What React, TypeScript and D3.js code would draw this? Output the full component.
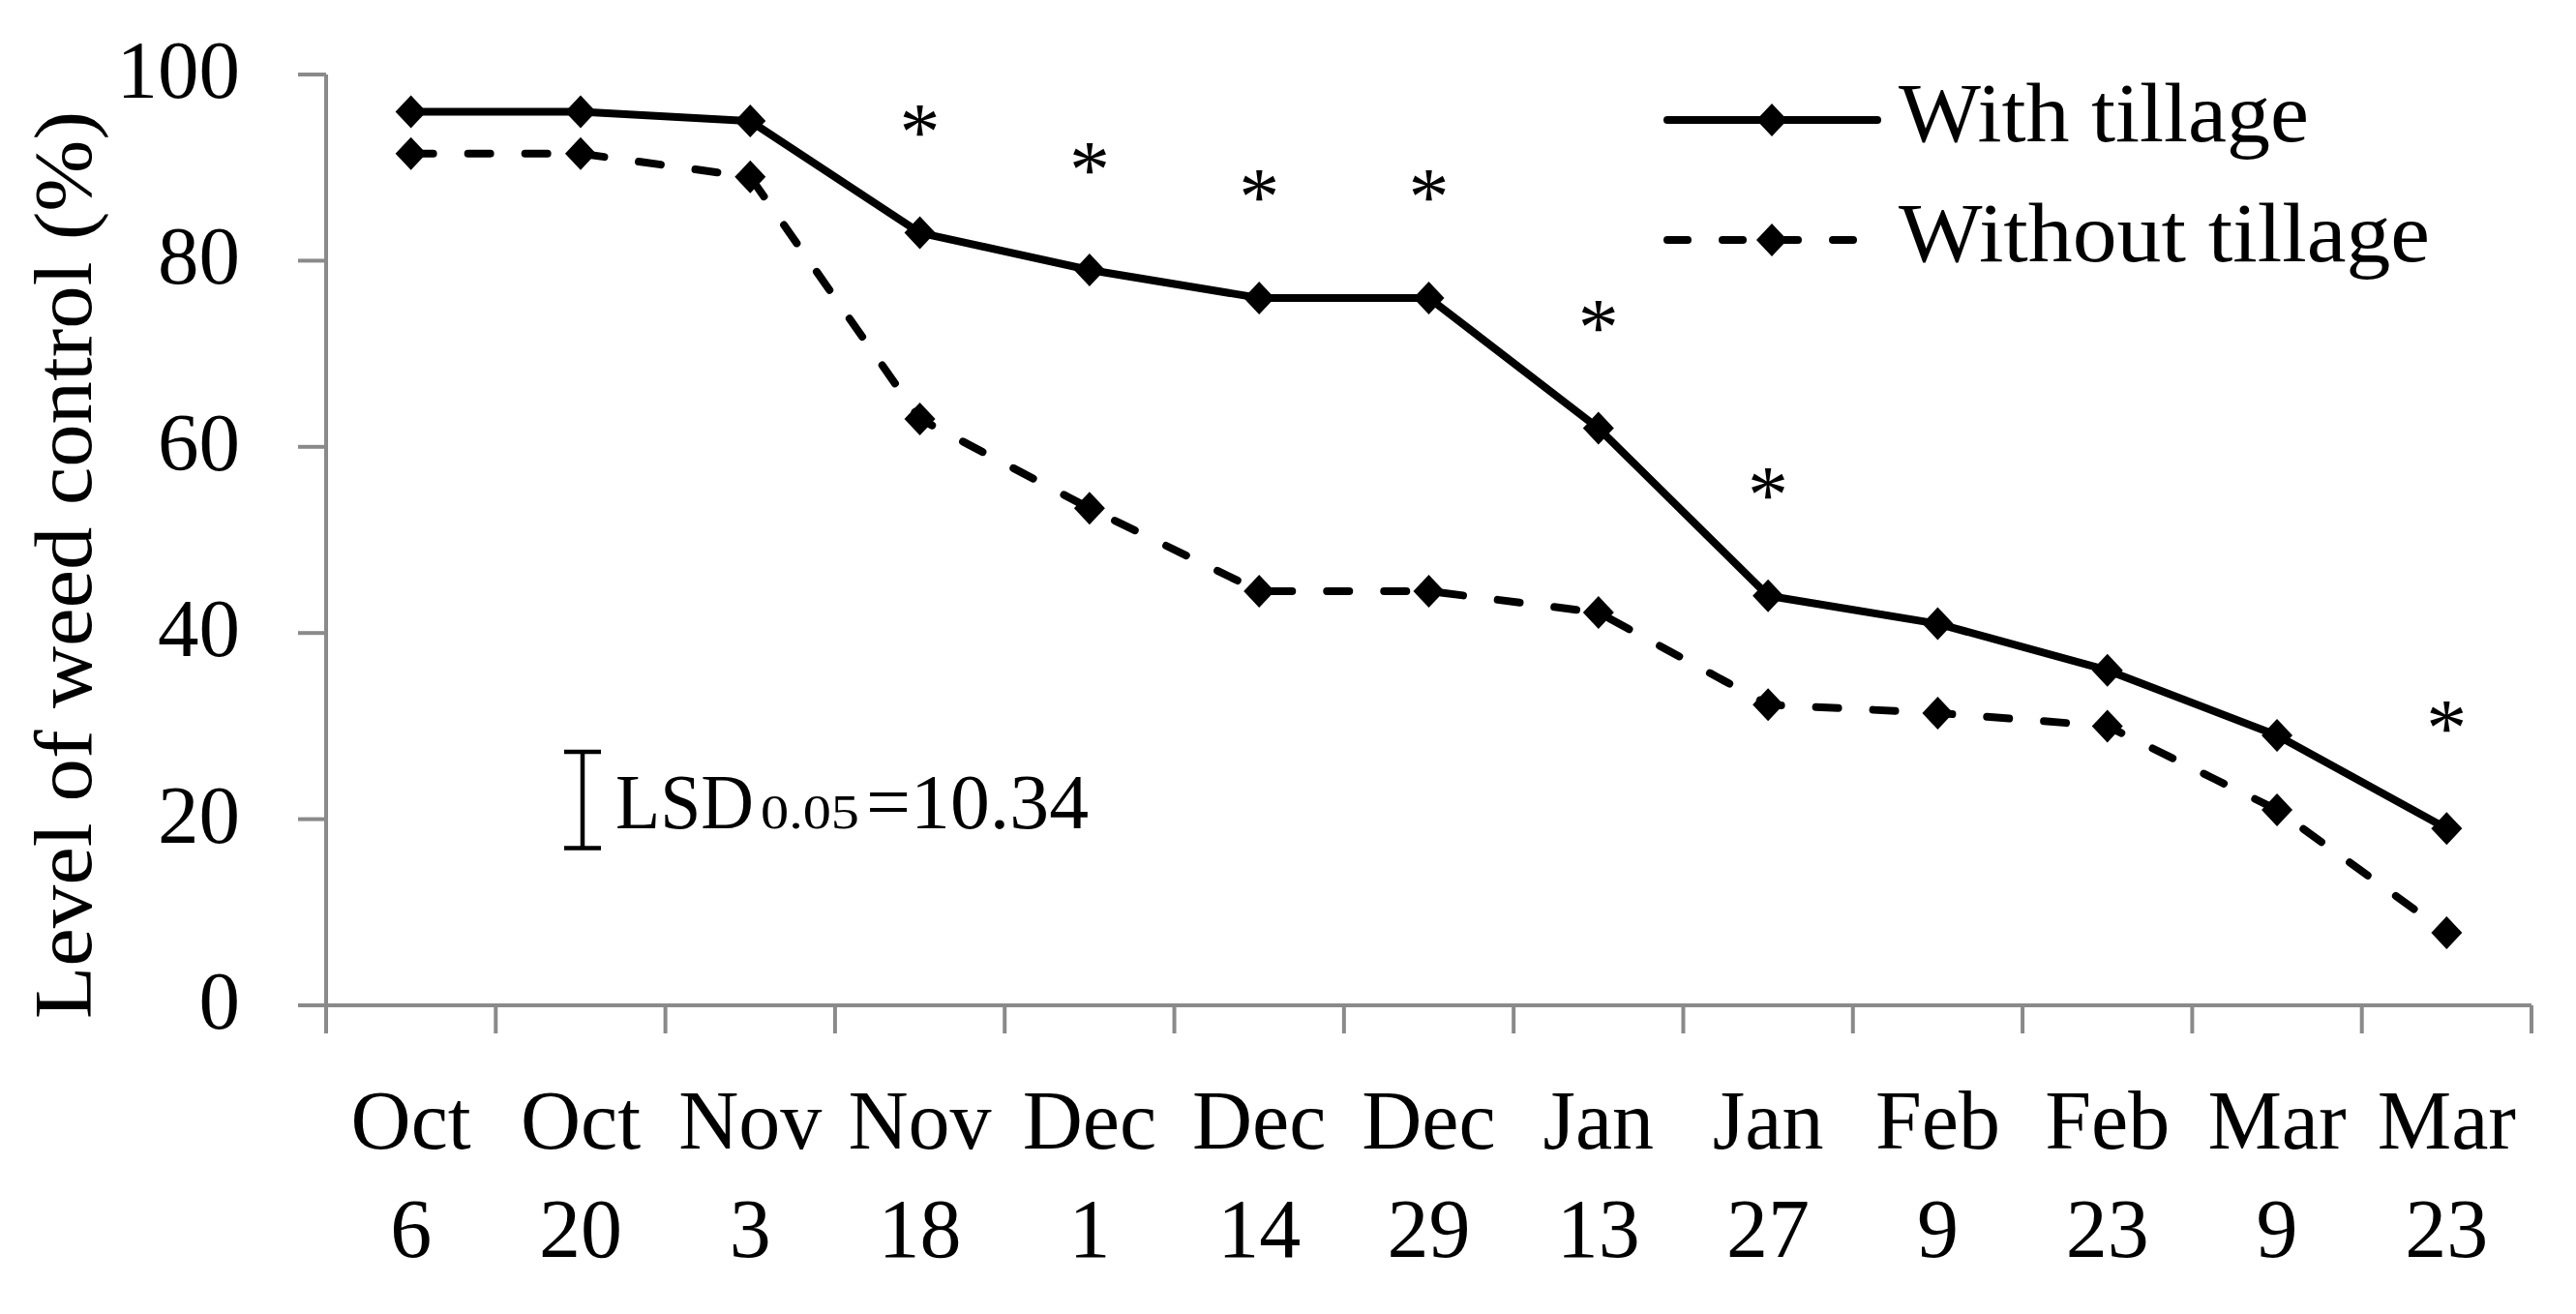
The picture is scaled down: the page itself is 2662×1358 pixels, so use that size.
import React from "react";
import * as d3 from "d3";

const months = ["Oct", "Oct", "Nov", "Nov", "Dec", "Dec", "Dec", "Jan", "Jan", "Feb", "Feb", "Mar", "Mar"];
const days = ["6", "20", "3", "18", "1", "14", "29", "13", "27", "9", "23", "9", "23"];
const withTillage = [96, 96, 95, 83, 79, 76, 76, 62, 44, 41, 36, 29, 19];
const withoutTillage = [91.5, 91.5, 89, 63, 53.4, 44.5, 44.5, 42.2, 32.3, 31.4, 30, 21, 7.8];
const significant = [false, false, false, true, true, true, true, true, true, false, false, false, true];
const yTicks = [0, 20, 40, 60, 80, 100];
const seriesNames = ["With tillage", "Without tillage"];
const lsdValue = 10.34;
const lsdBase = 16.9;

const W = 2662;
const H = 1358;
const FONT = "'Liberation Serif', 'Times New Roman', serif";
const AXIS = "#8a8a8a";
const DASH = "23,36";

export default function App() {
  const idx = months.map((_, i) => i);
  const x = d3.scaleBand<number>().domain(idx).range([337, 2616]).padding(0);
  const y = d3.scaleLinear().domain([0, 100]).range([1039, 77]);
  const cx = (i: number) => (x(i) as number) + x.bandwidth() / 2;
  const line = d3
    .line<number>()
    .x((_, i) => cx(i))
    .y((d) => y(d));
  const diamond = "M0,-17L16,0L0,17L-16,0Z";
  const boundaries = d3.range(months.length + 1).map((i) => 337 + i * x.bandwidth());
  const series = [withTillage, withoutTillage];

  return (
    <div style={{ position: "absolute", left: 0, top: 0 }}>
      <svg width={W} height={H} style={{ display: "block", background: "#fff" }} fontFamily={FONT}>
        <rect x={0} y={0} width={W} height={H} fill="#fff" />
        {/* y axis */}
        <line x1={x.range()[0]} x2={x.range()[0]} y1={y(100)} y2={y(0) + 29} stroke={AXIS} strokeWidth={4} />
        {yTicks.map((t) => (
          <g key={t}>
            <line x1={x.range()[0] - 29} x2={x.range()[0]} y1={y(t)} y2={y(t)} stroke={AXIS} strokeWidth={4} />
            <text x={248} y={y(t) + 24} fontSize={85} textAnchor="end" fill="#000">
              {t}
            </text>
          </g>
        ))}
        {/* x axis */}
        <line x1={x.range()[0] - 29} x2={x.range()[1]} y1={y(0)} y2={y(0)} stroke={AXIS} strokeWidth={4} />
        {boundaries.map((b, i) => (
          <line key={i} x1={b} x2={b} y1={y(0)} y2={y(0) + 29} stroke={AXIS} strokeWidth={4} />
        ))}
        {idx.map((i) => (
          <g key={i}>
            <text x={cx(i)} y={1187} fontSize={86} textAnchor="middle" fill="#000">
              {months[i]}
            </text>
            <text x={cx(i)} y={1299} fontSize={86} textAnchor="middle" fill="#000">
              {days[i]}
            </text>
          </g>
        ))}
        {/* y title */}
        <text
          transform={`translate(94,584) rotate(-90)`}
          fontSize={84}
          textAnchor="middle"
          textLength={938}
          lengthAdjust="spacingAndGlyphs"
          fill="#000"
        >
          Level of weed control (%)
        </text>
        {/* series */}
        {series.map((s, k) => (
          <g key={k}>
            <path
              d={line(s) as string}
              fill="none"
              stroke="#000"
              strokeWidth={8}
              strokeLinejoin="round"
              strokeLinecap="round"
              strokeDasharray={k === 1 ? DASH : undefined}
            />
            {s.map((v, i) => (
              <path key={i} d={diamond} transform={`translate(${cx(i)},${y(v)})`} fill="#000" />
            ))}
          </g>
        ))}
        {/* asterisks */}
        {idx
          .filter((i) => significant[i])
          .map((i) => (
            <text key={i} x={cx(i)} y={y(withTillage[i] + 12) + 40} fontSize={84} textAnchor="middle" fill="#000">
              *
            </text>
          ))}
        {/* LSD bar */}
        <g stroke="#000" strokeWidth={4.5}>
          <line x1={602} x2={602} y1={y(lsdBase)} y2={y(lsdBase + lsdValue)} />
          <line x1={583} x2={621} y1={y(lsdBase)} y2={y(lsdBase)} />
          <line x1={583} x2={621} y1={y(lsdBase + lsdValue)} y2={y(lsdBase + lsdValue)} />
        </g>
        <text x={636} y={856} fontSize={80} textLength={143} lengthAdjust="spacingAndGlyphs" fill="#000">
          LSD
        </text>
        <text x={786} y={856} fontSize={50} textLength={102} lengthAdjust="spacingAndGlyphs" fill="#000">
          0.05
        </text>
        <text x={895} y={856} fontSize={80} textLength={230} lengthAdjust="spacingAndGlyphs" fill="#000">
          =10.34
        </text>
        {/* legend */}
        {seriesNames.map((name, k) => {
          const ly = k === 0 ? 124 : 248;
          return (
            <g key={name}>
              <line
                x1={1723}
                x2={1940}
                y1={ly}
                y2={ly}
                stroke="#000"
                strokeWidth={8}
                strokeLinecap="round"
                strokeDasharray={k === 1 ? "21,36" : undefined}
              />
              <path d={diamond} transform={`translate(1831,${ly})`} fill="#000" />
              <text
                x={1962}
                y={ly + 22}
                fontSize={86}
                textLength={k === 0 ? 424 : 549}
                lengthAdjust="spacingAndGlyphs"
                fill="#000"
              >
                {name}
              </text>
            </g>
          );
        })}
      </svg>
    </div>
  );
}
